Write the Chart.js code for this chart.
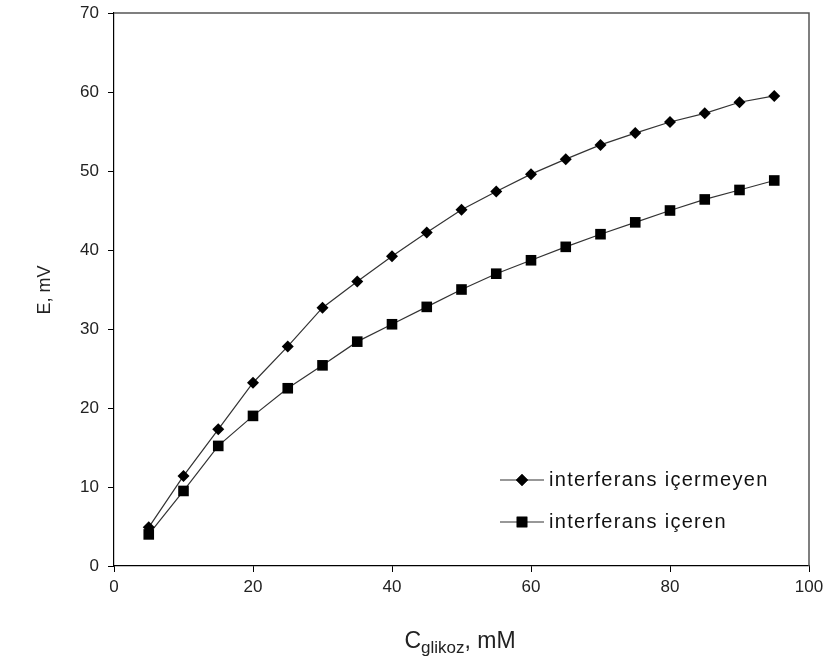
<!DOCTYPE html>
<html>
<head>
<meta charset="utf-8">
<script src="https://cdn.jsdelivr.net/npm/chart.js@4"></script>
<style>
  html, body { margin: 0; padding: 0; background: #fff; }
  #wrap { width: 834px; height: 666px; }
</style>
</head>
<body>
<div id="wrap"><canvas id="myChart" width="834" height="666"></canvas></div>
<script>
// glucose concentration, mM
var conc = [5, 10, 15, 20, 25, 30, 35, 40, 45, 50, 55, 60, 65, 70, 75, 80, 85, 90, 95];
// E, mV
var without_interf = [4.9, 11.4, 17.3, 23.2, 27.8, 32.7, 36.0, 39.2, 42.2, 45.1, 47.4, 49.6, 51.5, 53.3, 54.8, 56.2, 57.3, 58.7, 59.5];
var with_interf = [4.0, 9.5, 15.2, 19.0, 22.5, 25.4, 28.4, 30.6, 32.8, 35.0, 37.0, 38.7, 40.4, 42.0, 43.5, 45.0, 46.4, 47.6, 48.8];
var series_names = ["interferans içermeyen", "interferans içeren"];
var x_ticks = [0, 20, 40, 60, 80, 100];
var y_ticks = [0, 10, 20, 30, 40, 50, 60, 70];

function pts(vals){
    return conc.map(function(c, i){ return {x: c, y: vals[i]}; });
}

var FONT = "'Liberation Sans', Arial, sans-serif";

// frame, axis titles and the legend inside the plot
var extras = {
    id: 'extras',
    afterDraw: function(chart){
        var ctx = chart.ctx;
        var a = chart.chartArea;
        ctx.save();
        // top + right border of the plot box
        ctx.strokeStyle = '#555';
        ctx.lineWidth = 1.5;
        ctx.beginPath();
        ctx.moveTo(a.left, a.top);
        ctx.lineTo(a.right, a.top);
        ctx.lineTo(a.right, a.bottom);
        ctx.stroke();

        // y title
        ctx.fillStyle = '#222';
        ctx.font = '18px ' + FONT;
        ctx.textAlign = 'center';
        ctx.textBaseline = 'middle';
        ctx.save();
        ctx.translate(45, 290);
        ctx.rotate(-Math.PI / 2);
        ctx.fillText('E, mV', 0, 0);
        ctx.restore();

        // x title with subscript
        var cx = 460;
        var ty = 648;
        ctx.textAlign = 'left';
        ctx.textBaseline = 'alphabetic';
        ctx.font = '23px ' + FONT;
        var wC = ctx.measureText('C').width;
        var wEnd = ctx.measureText(', mM').width;
        ctx.font = '17px ' + FONT;
        var wSub = ctx.measureText('glikoz').width;
        var x0 = cx - (wC + wSub + wEnd) / 2;
        ctx.font = '23px ' + FONT;
        ctx.fillText('C', x0, ty);
        ctx.font = '17px ' + FONT;
        ctx.fillText('glikoz', x0 + wC, ty + 5);
        ctx.font = '23px ' + FONT;
        ctx.fillText(', mM', x0 + wC + wSub, ty);

        // legend
        var rows = [480, 522];
        chart.data.datasets.forEach(function(ds, i){
            var y = rows[i];
            ctx.strokeStyle = '#333';
            ctx.lineWidth = 1.2;
            ctx.beginPath();
            ctx.moveTo(500, y);
            ctx.lineTo(544, y);
            ctx.stroke();
            ctx.fillStyle = '#000';
            Chart.helpers.drawPoint(ctx, {pointStyle: ds.pointStyle, radius: ds.pointRadius, borderWidth: 0}, 522, y);
            ctx.fill();
            ctx.font = '20px ' + FONT;
            ctx.letterSpacing = '1.3px';
            ctx.textAlign = 'left';
            ctx.textBaseline = 'middle';
            ctx.fillStyle = '#111';
            ctx.fillText(ds.label, 549, y);
            ctx.letterSpacing = '0px';
        });
        ctx.restore();
    }
};

var ctx = document.getElementById('myChart').getContext('2d');
var myChart = new Chart(ctx, {
    type: 'line',
    data: {
        datasets: [{
            label: series_names[0],
            data: pts(without_interf),
            borderColor: '#333',
            borderWidth: 1.2,
            backgroundColor: '#000',
            pointBackgroundColor: '#000',
            pointBorderColor: '#000',
            pointBorderWidth: 0,
            pointStyle: 'rectRot',
            pointRadius: 6,
            pointHoverRadius: 6,
            tension: 0
        }, {
            label: series_names[1],
            data: pts(with_interf),
            borderColor: '#333',
            borderWidth: 1.2,
            backgroundColor: '#000',
            pointBackgroundColor: '#000',
            pointBorderColor: '#000',
            pointBorderWidth: 0,
            pointStyle: 'rect',
            pointRadius: 7.5,
            pointHoverRadius: 7.5,
            tension: 0
        }]
    },
    options: {
        responsive: false,
        animation: false,
        layout: { padding: { left: 0, top: 13, right: 25, bottom: 0 } },
        plugins: {
            legend: { display: false },
            tooltip: { enabled: false }
        },
        scales: {
            x: {
                type: 'linear',
                min: 0,
                max: 100,
                afterFit: function(s){ s.height = 100; s.paddingLeft = 0; s.paddingRight = 0; },
                afterBuildTicks: function(s){ s.ticks = x_ticks.map(function(v){ return {value: v}; }); },
                grid: { display: true, drawOnChartArea: false, drawTicks: true, tickLength: 6, color: '#000', lineWidth: 1 },
                border: { display: true, color: '#000', width: 1.2 },
                ticks: { color: '#222', font: { family: FONT, size: 17 }, padding: 5, maxRotation: 0 }
            },
            y: {
                min: 0,
                max: 70,
                afterFit: function(s){ s.width = 114; s.paddingTop = 0; s.paddingBottom = 0; },
                afterBuildTicks: function(s){ s.ticks = y_ticks.map(function(v){ return {value: v}; }); },
                grid: { display: true, drawOnChartArea: false, drawTicks: true, tickLength: 6, color: '#000', lineWidth: 1 },
                border: { display: true, color: '#000', width: 1.2 },
                ticks: { color: '#222', font: { family: FONT, size: 17 }, padding: 9 }
            }
        }
    },
    plugins: [extras]
});
</script>
</body>
</html>
